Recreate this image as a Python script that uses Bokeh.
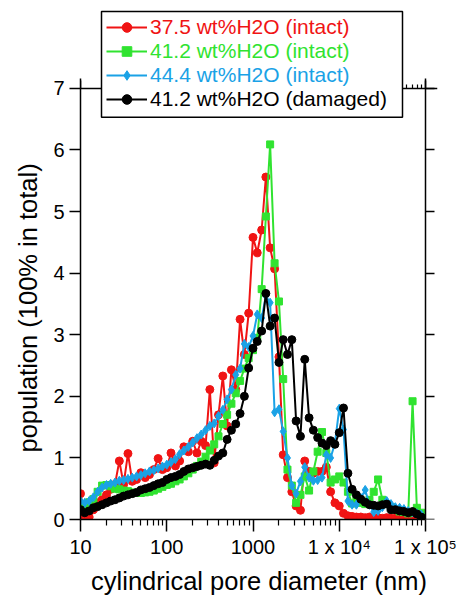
from bokeh.plotting import figure
from bokeh.models import (LogAxis, LinearAxis, FixedTicker, Range1d, Legend,
                          LegendItem, BoxAnnotation, Title)
from bokeh.embed import file_html
from bokeh.resources import INLINE

# ---------------- data ----------------
diameter_nm = [
    10.0, 11.2, 12.6, 14.1, 15.8, 17.8, 20.0, 22.4, 25.1, 28.2,
    31.6, 35.5, 39.8, 44.7, 50.1, 56.2, 63.1, 70.8, 79.4, 89.1,
    100, 112, 126, 141, 158, 178, 200, 224, 251, 282,
    316, 355, 398, 447, 501, 562, 631, 708, 794, 891,
    1000, 1120, 1260, 1410, 1580, 1780, 2000, 2240, 2510, 2820,
    3160, 3550, 3980, 4470, 5010, 5620, 6310, 7080, 7940, 8910,
    10000, 11200, 12600, 14100, 15800, 17800, 20000, 22400, 25100, 28200,
    31600, 35500, 39800, 44700, 50100, 56200, 63100, 70800, 79400, 89100,
]

red_375_intact = [
    0.42, 0.03, 0.04, 0.16, 0.27, 0.32, 0.40, 0.49, 0.57, 0.95,
    0.57, 1.07, 0.62, 0.65, 0.76, 0.68, 0.73, 0.81, 0.99, 0.81,
    0.84, 1.08, 0.87, 0.95, 1.18, 1.10, 1.27, 1.08, 1.27, 1.20,
    2.11, 0.92, 1.70, 2.33, 1.52, 2.43, 2.11, 3.25, 2.68, 3.35,
    4.58, 4.33, 4.70, 5.56, 4.41, 4.07, 2.64, 1.05, 0.68, 0.45,
    0.22, 0.15, 0.95, 0.78, 0.75, 0.78, 0.78, 0.85, 0.45, 0.27,
    0.22, 0.10, 0.06, 0.05, 0.04, 0.04, 0.03, 0.04, 0.03, 0.03,
    0.02, 0.03, 0.02, 0.02, 0.02, 0.02, 0.01, 0.02, 0.01, 0.01,
]

green_412_intact = [
    0.17, 0.22, 0.28, 0.33, 0.45, 0.55, 0.56, 0.54, 0.50, 0.49,
    0.47, 0.46, 0.44, 0.43, 0.43, 0.44, 0.45, 0.47, 0.50, 0.53,
    0.56, 0.58, 0.62, 0.65, 0.70, 0.75, 0.81, 0.87, 0.94, 1.02,
    1.12, 1.22, 1.35, 1.55, 1.70, 1.88, 2.05, 2.25, 2.45, 2.62,
    2.75, 2.95, 3.74, 4.92, 6.09, 4.16, 3.54, 2.28, 0.81, 0.55,
    0.27, 0.40, 0.70, 0.47, 0.78, 1.10, 1.42, 1.08, 0.60, 0.65,
    0.70, 0.60, 0.45, 0.26, 0.32, 0.27, 0.25, 0.32, 0.45, 0.65,
    0.32, 0.25, 0.20, 0.16, 0.13, 0.12, 0.10, 1.92, 0.19, 0.11,
]

blue_444_intact = [
    0.30, 0.27, 0.30, 0.36, 0.45, 0.52, 0.56, 0.58, 0.60, 0.63,
    0.64, 0.66, 0.68, 0.70, 0.72, 0.75, 0.78, 0.80, 0.83, 0.86,
    0.89, 0.93, 0.98, 1.06, 1.12, 1.18, 1.25, 1.32, 1.38, 1.45,
    1.52, 1.56, 1.68, 1.78, 1.95, 2.11, 2.35, 2.45, 2.85, 2.80,
    2.98, 3.33, 3.27, 3.63, 3.52, 1.74, 1.79, 1.43, 1.00, 0.55,
    0.42, 0.62, 0.85, 0.68, 0.63, 0.64, 0.68, 1.05, 1.00, 1.24,
    1.80, 1.46, 0.30, 0.24, 0.24, 0.35, 0.48, 0.24, 0.12, 0.14,
    0.20, 0.30, 0.25, 0.20, 0.19, 0.17, 0.14, 0.12, 0.10, 0.08,
]

black_412_damaged = [
    0.16, 0.11, 0.14, 0.19, 0.21, 0.24, 0.27, 0.30, 0.32, 0.35,
    0.38, 0.40, 0.42, 0.44, 0.48, 0.50, 0.52, 0.55, 0.58, 0.60,
    0.65, 0.68, 0.70, 0.73, 0.78, 0.82, 0.84, 0.86, 0.88, 0.90,
    0.88, 0.96, 1.03, 1.08, 1.30, 1.45, 1.55, 1.72, 2.00, 2.46,
    2.78, 2.89, 3.06, 3.67, 3.14, 3.27, 2.55, 2.92, 2.68, 2.92,
    1.60, 1.35, 2.60, 1.65, 1.45, 1.33, 1.24, 1.20, 1.28, 1.22,
    1.41, 1.81, 0.75, 0.49, 0.40, 0.33, 0.28, 0.24, 0.23, 0.22,
    0.24, 0.25, 0.16, 0.16, 0.14, 0.13, 0.11, 0.13, 0.09, 0.04,
]

series_labels = [
    "37.5 wt%H2O (intact)",
    "41.2 wt%H2O (intact)",
    "44.4 wt%H2O (intact)",
    "41.2 wt%H2O (damaged)",
]

x_tick_values = [10, 100, 1000, 10000, 100000]
x_tick_labels = ["10", "100", "1000", "1 x 10\u2074", "1 x 10\u2075"]
y_tick_values = [0, 1, 2, 3, 4, 5, 6, 7]

x_label = "cylindrical pore diameter (nm)"
y_label = "population (100% in total)"

# ---------------- geometry & styling ----------------
FONT = "Liberation Sans"
RED = "#F01414"
GREEN = "#30E330"
BLUE = "#1AA2E6"
BLACK = "#000000"

W, H = 458, 597
AX_LEFT, AX_RIGHT = 80, 425          # pixel columns of x = 10 and x = 1e5
AX_TOP, AX_BOTTOM = 88, 520          # pixel rows of y = 7 and y = 0
FRAME_RIGHT, FRAME_TOP = 437, 8      # frame reaches a bit beyond the axes
X0, XA, Y0, YA = 10.0, 1e5, 0.0, 7.0
PX_DEC = (AX_RIGHT - AX_LEFT) / 4.0
PX_UNIT = (AX_BOTTOM - AX_TOP) / 7.0
X1 = 10 ** (1 + (FRAME_RIGHT - AX_LEFT) / PX_DEC)
Y1 = (AX_BOTTOM - FRAME_TOP) / PX_UNIT
AXIS_TOP_VAL = (AX_BOTTOM - 78) / PX_UNIT   # left/right axis lines stop here


def px_to_x(px):
    return 10 ** (1 + (px - AX_LEFT) / PX_DEC)


def py_to_y(py):
    return (AX_BOTTOM - py) / PX_UNIT


p = figure(width=W, height=H, x_axis_type="log",
           x_range=Range1d(X0, X1), y_range=Range1d(Y0, Y1),
           output_backend="svg", toolbar_location=None,
           min_border_left=AX_LEFT, min_border_right=W - FRAME_RIGHT,
           min_border_top=FRAME_TOP, min_border_bottom=H - AX_BOTTOM)
p.outline_line_color = None
p.xgrid.visible = False
p.ygrid.visible = False
p.background_fill_color = "white"
p.border_fill_color = "white"

minor_x = [m * d for d in (10, 100, 1000, 10000) for m in range(2, 10)]


def style_axis(ax, tick_out, minor_out=0, labels=True):
    ax.axis_line_width = 1.5
    ax.axis_line_color = "black"
    ax.major_tick_line_width = 1.5
    ax.major_tick_line_color = "black"
    ax.minor_tick_line_width = 1.2
    ax.minor_tick_line_color = "black"
    ax.major_tick_in = 0
    ax.major_tick_out = tick_out
    ax.minor_tick_in = 0
    ax.minor_tick_out = minor_out
    ax.major_label_text_font = FONT
    ax.major_label_text_font_size = "20px" if labels else "1px"
    ax.major_label_text_color = "black" if labels else None
    ax.axis_label_text_font = FONT
    ax.axis_label_text_font_style = "normal"
    ax.axis_label_text_font_size = "25.5px"
    ax.axis_label_text_color = "black"


xa = p.xaxis[0]
xa.ticker = FixedTicker(ticks=x_tick_values, minor_ticks=minor_x)
xa.major_label_overrides = dict(zip(x_tick_values, x_tick_labels))
xa.bounds = (X0, XA)
style_axis(xa, 12, 6)
xa.major_label_standoff = 4
xa.axis_label = x_label
xa.axis_label_standoff = 6

ya = p.yaxis[0]
ya.ticker = FixedTicker(ticks=y_tick_values, minor_ticks=[])
ya.bounds = (Y0, AXIS_TOP_VAL)
style_axis(ya, 11, 0)
ya.major_label_standoff = 5

# y-axis title placed in the left panel, centred on the 0..7 axis span
ytitle = Title(text=y_label, align="left", offset=67, standoff=18,
               text_font=FONT, text_font_size="25.5px",
               text_font_style="normal", text_color="black")
p.add_layout(ytitle, "left")

top = LogAxis(ticker=FixedTicker(ticks=x_tick_values, minor_ticks=minor_x),
              fixed_location=YA)
style_axis(top, 8, 4, labels=False)
p.add_layout(top, "above")

right = LinearAxis(ticker=FixedTicker(ticks=y_tick_values, minor_ticks=[]),
                   fixed_location=XA, bounds=(Y0, AXIS_TOP_VAL))
style_axis(right, 9, 0, labels=False)
p.add_layout(right, "right")

# ---------------- series ----------------
specs = [
    (red_375_intact, RED, "circle", 8),
    (green_412_intact, GREEN, "square", 7),
    (blue_444_intact, BLUE, "diamond", 9),
    (black_412_damaged, BLACK, "circle", 8),
]
items = []
for (vals, col, mk, sz), lab in zip(specs, series_labels):
    lr = p.line(diameter_nm, vals, line_color=col, line_width=2)
    sr = p.scatter(diameter_nm, vals, marker=mk, size=sz,
                   fill_color=col, line_color=col)
    items.append(LegendItem(label=lab, renderers=[lr, sr]))

# ---------------- legend: one white box + one coloured entry per series ----------------
LEG_LEFT, LEG_TOP, LEG_RIGHT, LEG_BOTTOM = 101, 11, 402, 117
PAD, ROW, GLW, STAND = 5, 24, 41, 3
p.add_layout(BoxAnnotation(left=px_to_x(LEG_LEFT), right=px_to_x(LEG_RIGHT),
                           top=py_to_y(LEG_TOP), bottom=py_to_y(LEG_BOTTOM),
                           fill_color="white", fill_alpha=1.0,
                           line_color="black", line_width=1.5, line_alpha=1.0))

for k, ((vals, col, mk, sz), item) in enumerate(zip(specs, items)):
    row_bottom = LEG_TOP + PAD + ROW * (k + 1)
    leg = Legend(items=[item],
                 location=(LEG_LEFT + PAD - AX_LEFT, AX_BOTTOM - row_bottom),
                 padding=0, spacing=0, margin=0,
                 glyph_width=GLW, glyph_height=ROW, label_height=ROW,
                 label_standoff=STAND,
                 label_text_font=FONT, label_text_font_size="21px",
                 label_text_color=col,
                 border_line_alpha=0.0, background_fill_alpha=0.0)
    p.add_layout(leg)

open("out.html", "w").write(file_html(p, INLINE))
